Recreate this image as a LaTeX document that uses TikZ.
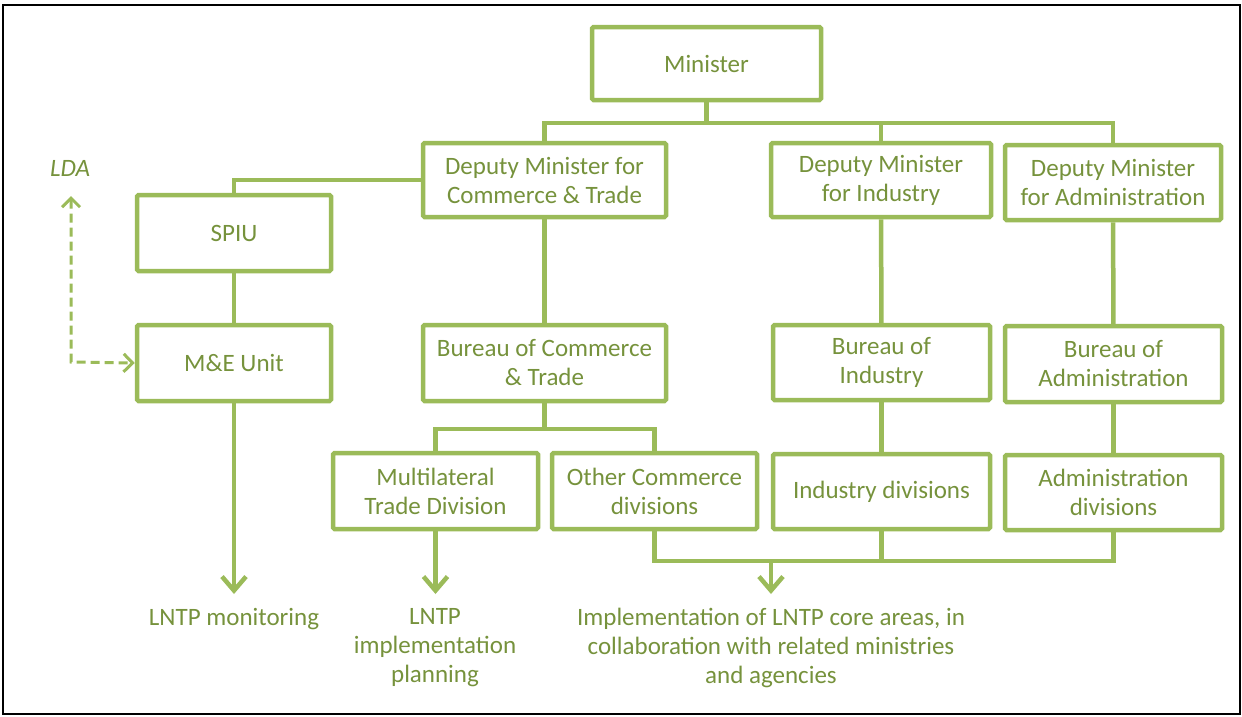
\documentclass[tikz,border=0pt]{standalone}
\usepackage{fontspec}
\setmainfont{Carlito}
\usetikzlibrary{arrows.meta}
\definecolor{boxgreen}{HTML}{9BBB59}
\definecolor{txtgreen}{HTML}{76923C}
\begin{document}
\begin{tikzpicture}[x=1pt,y=-1pt,
  box/.style={draw=boxgreen, line width=4.5pt, rounded corners=1.5pt, align=center, text=txtgreen, font=\fontsize{25}{29}\selectfont, inner sep=0pt},
  conn/.style={draw=boxgreen, line width=4.5pt},
  arr/.style={conn, -{Straight Barb[length=14pt,width=24pt]}},
  lbl/.style={text=txtgreen, align=center, font=\fontsize{25}{29}\selectfont},
  ldaline/.style={draw=boxgreen, line width=3pt, dash pattern=on 9pt off 5pt, {Straight Barb[length=9pt,width=18pt]}-{Straight Barb[length=9pt,width=18pt]}}
]
\useasboundingbox (0,0) rectangle (1242,716);
\draw[black, line width=2.5pt] (3,5) rectangle (1240,714);

% boxes
\node[box, minimum width=229, minimum height=73] (min) at (706.5,63.5) {Minister};
\node[box, minimum width=243, minimum height=74] (dcom) at (544.5,180) {Deputy Minister for\\Commerce \& Trade};
\node[box, minimum width=220, minimum height=74] (dind) at (881,180) {Deputy Minister\\for Industry};
\node[box, minimum width=216, minimum height=75] (dadm) at (1113,182.5) {Deputy Minister\\for Administration};
\node[box, minimum width=194, minimum height=76] (spiu) at (234,233) {SPIU};
\node[box, minimum width=194, minimum height=76] (me) at (234,363) {M\&E Unit};
\node[box, minimum width=243, minimum height=76] (bcom) at (544.5,363) {Bureau of Commerce\\\& Trade};
\node[box, minimum width=217, minimum height=75] (bind) at (881.5,362.5) {Bureau of\\Industry};
\node[box, minimum width=217, minimum height=76] (badm) at (1113.5,364) {Bureau of\\Administration};
\node[box, minimum width=205, minimum height=76] (mtd) at (435.5,491) {Multilateral\\Trade Division};
\node[box, minimum width=205, minimum height=76] (ocd) at (654.5,491) {Other Commerce\\divisions};
\node[box, minimum width=217, minimum height=75] (idv) at (881.5,491.5) {Industry divisions};
\node[box, minimum width=217, minimum height=75] (adv) at (1113.5,492.5) {Administration\\divisions};

% labels
\node[lbl] (mon) at (234,619) {LNTP monitoring};
\node[lbl] (plan) at (435,648) {LNTP\\implementation\\planning};
\node[lbl] (impl) at (771,648) {Implementation of LNTP core areas, in\\collaboration with related ministries\\and agencies};
\node[lbl, font=\fontsize{25}{29}\selectfont\itshape] (lda) at (70,168) {LDA};

% coordinates
\coordinate (bus) at (706.5,123);
\coordinate (cbus) at (544.5,429);
\coordinate (bbus) at (771,561);
\coordinate (monTip) at (234,594);
\coordinate (planTip) at (435.5,594);
\coordinate (implTip) at (771,594);
\coordinate (ldaTip) at (71,196);
\coordinate (ldaCorner) at (71,362);

% connectors
\draw[conn] (min.south) -- (bus);
\draw[conn] (dcom.north) |- (bus) -| (dadm.north);
\draw[conn] (bus) -| (dind.north);
\draw[conn] (dcom.west) -| (spiu.north);
\draw[conn] (spiu) -- (me);
\draw[arr] (me.south) -- (monTip);
\draw[conn] (dcom) -- (bcom);
\draw[conn] (bcom.south) -- (cbus);
\draw[conn] (mtd.north) |- (cbus) -| (ocd.north);
\draw[arr] (mtd.south) -- (planTip);
\draw[conn] (dind) -- (bind);
\draw[conn] (bind) -- (idv);
\draw[conn] (dadm) -- (badm);
\draw[conn] (badm) -- (adv);
\draw[conn] (ocd.south) |- (bbus) -| (adv.south);
\draw[conn] (idv.south) -- (idv.south |- bbus);
\draw[arr] (bbus) -- (implTip);
\draw[ldaline] (ldaTip) -- (ldaCorner) -- (me.west);
\end{tikzpicture}
\end{document}
